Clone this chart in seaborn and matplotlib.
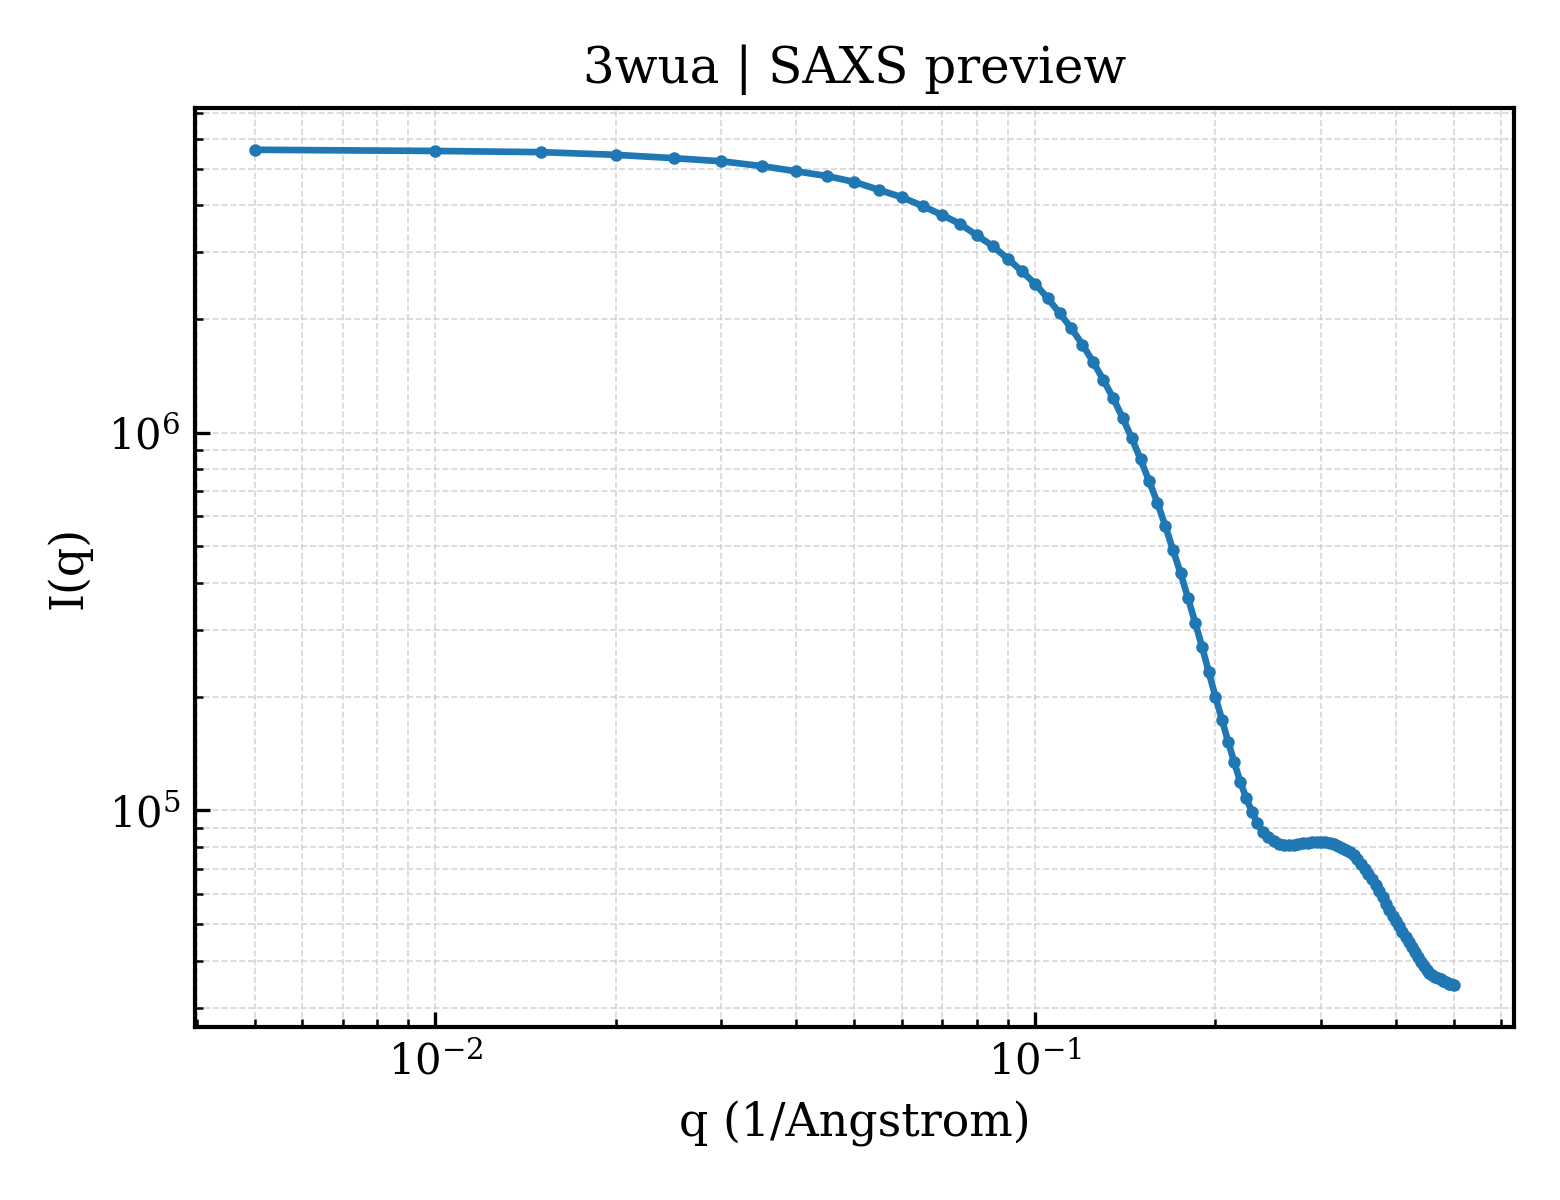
import numpy as np
import pandas as pd
import seaborn as sns
import matplotlib
matplotlib.use('Agg')
import matplotlib.pyplot as plt

# q grid (1/Angstrom), 0.005 steps
q = [round(0.005 * i, 3) for i in range(1, 101)]

# I(q)
intensity = [
    5.61e6, 5.57e6, 5.53e6, 5.44e6, 5.33e6, 5.23e6, 5.08e6, 4.92e6, 4.78e6, 4.61e6,
    4.39e6, 4.20e6, 3.98e6, 3.77e6, 3.57e6, 3.33e6, 3.12e6, 2.89e6, 2.68e6, 2.48e6,
    2.27e6, 2.07e6, 1.89e6, 1.71e6, 1.54e6, 1.38e6, 1.235e6, 1.096e6, 9.68e5, 8.50e5,
    7.45e5, 6.53e5, 5.66e5, 4.88e5, 4.24e5, 3.65e5, 3.14e5, 2.71e5, 2.32e5, 2.00e5,
    1.74e5, 1.52e5, 1.34e5, 1.19e5, 1.08e5, 9.92e4, 9.24e4, 8.78e4, 8.48e4, 8.28e4,
    8.15e4, 8.09e4, 8.08e4, 8.09e4, 8.13e4, 8.18e4, 8.21e4, 8.25e4, 8.27e4, 8.27e4,
    8.25e4, 8.20e4, 8.13e4, 8.05e4, 7.96e4, 7.86e4, 7.77e4, 7.60e4, 7.42e4, 7.20e4,
    7.00e4, 6.79e4, 6.57e4, 6.35e4, 6.11e4, 5.89e4, 5.66e4, 5.44e4, 5.26e4, 5.09e4,
    4.93e4, 4.77e4, 4.63e4, 4.47e4, 4.34e4, 4.21e4, 4.08e4, 3.96e4, 3.87e4, 3.77e4,
    3.71e4, 3.66e4, 3.63e4, 3.59e4, 3.57e4, 3.54e4, 3.51e4, 3.48e4, 3.46e4, 3.44e4,
]

df = pd.DataFrame({'q': q, 'I': intensity})

sns.set_style('white')
plt.rcParams['font.family'] = ['DejaVu Serif']
plt.rcParams['mathtext.fontset'] = 'dejavuserif'
plt.rcParams['text.color'] = 'black'
plt.rcParams['axes.labelcolor'] = 'black'
plt.rcParams['xtick.color'] = 'black'
plt.rcParams['ytick.color'] = 'black'

fig, ax = plt.subplots(figsize=(5.2, 4), dpi=300)
sns.lineplot(data=df, x='q', y='I', marker='o', markersize=3, markeredgewidth=0,
             color='#1f77b4', linewidth=1.6, ax=ax)
ax.set_xscale('log')
ax.set_yscale('log')

ax.set_title('3wua | SAXS preview', fontsize=12, color='black')
ax.set_xlabel('q (1/Angstrom)', fontsize=11)
ax.set_ylabel('I(q)', fontsize=11)
ax.tick_params(which='both', direction='in', bottom=True, left=True,
               top=False, right=False, labelsize=10)
ax.tick_params(which='major', length=3.5, width=0.8)
ax.tick_params(which='minor', length=2, width=0.6)
ax.grid(True, which='both', linestyle='--', linewidth=0.4, color='#cccccc', alpha=0.8)
for s in ax.spines.values():
    s.set_color('black')
    s.set_linewidth(1.0)

fig.subplots_adjust(left=0.125, right=0.9705, top=0.91, bottom=0.144)
fig.savefig('out.png', dpi=300)
